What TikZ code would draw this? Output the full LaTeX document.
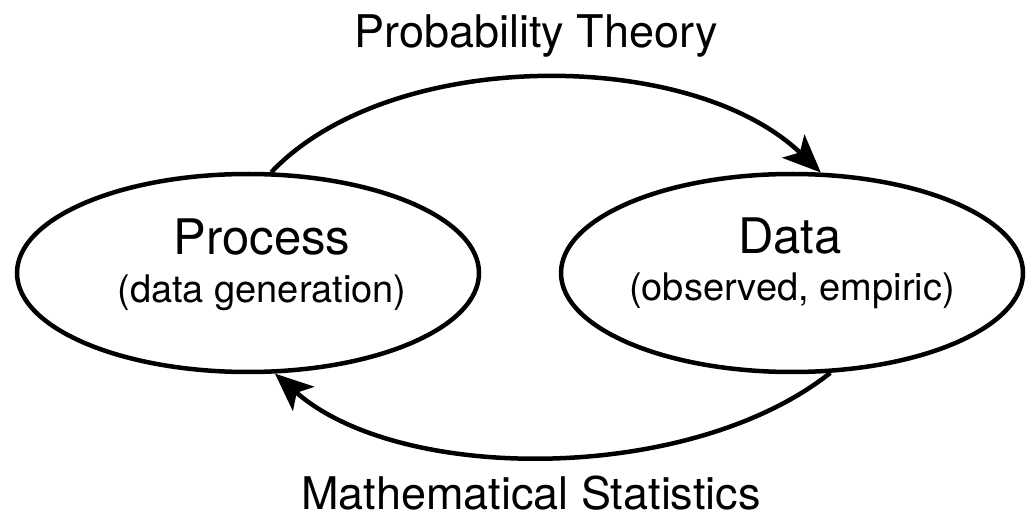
\documentclass[tikz,border=0pt]{standalone}
\usepackage{fontspec}
\setmainfont{TeX Gyre Heros}
\usetikzlibrary{shapes.geometric,arrows.meta}
\begin{document}
\begin{tikzpicture}[x=1pt,y=-1pt,
  oval/.style={ellipse,draw,line width=4.5pt,minimum width=462pt,minimum height=198pt,inner sep=0pt},
  arc/.style={line width=4.5pt,-{Stealth[length=38pt,width=32pt,inset=9pt]}},
  big/.style={anchor=base,font=\fontsize{49}{52}\selectfont},
  small/.style={anchor=base,font=\fontsize{38}{42}\selectfont},
  lbl/.style={anchor=base,font=\fontsize{45}{48}\selectfont}]
\useasboundingbox (0,0) rectangle (1033,518);
\node[oval] (proc) at (248,273) {};
\node[oval] (data) at (792,273) {};
\node[big] (proct) at (262,255) {Process};
\node[small] (procs) at (262,303) {(data generation)};
\node[big] (datat) at (790,254) {Data};
\node[small] (datas) at (792,301) {(observed, empiric)};
\node[lbl] (pt) at (536,48) {Probability Theory};
\node[lbl,inner sep=0pt] (ms) at (531,509) {Mathematical Statistics};
\draw[arc] (proc.77) .. controls (390,47) and (690,47) .. (data.74);
\draw[arc] (data.-69) .. controls (690,484) and (400,484) .. (proc.-75);
\end{tikzpicture}
\end{document}
